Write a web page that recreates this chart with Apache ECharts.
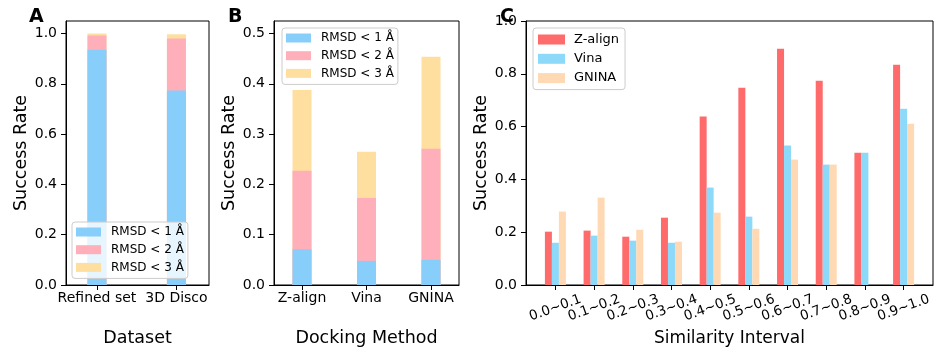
<!DOCTYPE html>
<html>
<head>
<meta charset="utf-8">
<script src="https://cdn.jsdelivr.net/npm/echarts@6/dist/echarts.min.js"></script>
<style>
html,body{margin:0;padding:0;background:#fff;}
#chart{width:949px;height:358px;}
</style>
</head>
<body>
<div id="chart"></div>
<script>
// ---- Data ----
const catsA = ['Refined set', '3D Disco'];
const a_rmsd1 = [0.936, 0.774];
const a_rmsd2 = [0.992, 0.980];
const a_rmsd3 = [1.000, 0.997];

const catsB = ['Z-align', 'Vina', 'GNINA'];
const b_rmsd1 = [0.071, 0.048, 0.050];
const b_rmsd2 = [0.227, 0.173, 0.271];
const b_rmsd3 = [0.388, 0.265, 0.454];

const catsC = ['0.0~0.1','0.1~0.2','0.2~0.3','0.3~0.4','0.4~0.5','0.5~0.6','0.6~0.7','0.7~0.8','0.8~0.9','0.9~1.0'];
const c_zalign = [0.202, 0.206, 0.183, 0.255, 0.638, 0.747, 0.895, 0.774, 0.501, 0.834];
const c_vina   = [0.160, 0.187, 0.168, 0.160, 0.369, 0.259, 0.528, 0.456, 0.501, 0.668];
const c_gnina  = [0.278, 0.331, 0.209, 0.164, 0.274, 0.213, 0.475, 0.456, 0.000, 0.611];

const yTicksA = [0, 0.2, 0.4, 0.6, 0.8, 1.0];
const yTicksB = [0, 0.1, 0.2, 0.3, 0.4, 0.5];
const yTicksC = [0, 0.2, 0.4, 0.6, 0.8, 1.0];

const rmsdNames = ['RMSD < 1 Å', 'RMSD < 2 Å', 'RMSD < 3 Å'];
const methodNames = ['Z-align', 'Vina', 'GNINA'];

// ---- Styles ----
const FONT = 'DejaVu Sans';
const colBlue = '#87CEFA', colPink = '#FFAFBA', colYellow = '#FFDFA0';
const colRed = '#FF6B6B', colVina = '#8DD9FA', colGnina = '#FFD9B3';

function pts(arr) { return arr.map((v, i) => [i, v]); }
function idx(n) { return Array.from({length: n}, (_, i) => i); }

function xAxisCfg(gi, cats, min, max, name, rotate, labelIdx) {
  const ticks = idx(cats.length);
  const labs = labelIdx || ticks;
  const lab = {
    customValues: labs,
    formatter: v => cats[Math.round(v)],
    showMinLabel: true, showMaxLabel: true, hideOverlap: false,
    fontSize: 14, color: '#000', fontFamily: FONT, margin: 6
  };
  if (rotate) {
    Object.assign(lab, {rotate: rotate, align: 'center', verticalAlign: 'middle', margin: 23, fontSize: 13.5});
  }
  return {
    type: 'value', gridIndex: gi, min: min, max: max, position: 'bottom',
    axisLine: {show: true, onZero: false, lineStyle: {color: '#000', width: 1}},
    axisTick: {show: true, inside: false, length: 5, customValues: ticks, lineStyle: {color: '#000'}},
    axisLabel: lab,
    splitLine: {show: false},
    name: name, nameLocation: 'middle', nameGap: 44,
    nameTextStyle: {fontSize: rotate ? 17 : 17.5, color: '#000', fontFamily: FONT, verticalAlign: 'top'}
  };
}
function yAxisCfg(gi, max, ticks) {
  return {
    type: 'value', gridIndex: gi, min: 0, max: max,
    axisLine: {show: true, onZero: false, lineStyle: {color: '#000', width: 1}},
    axisTick: {show: true, inside: false, length: 5, customValues: ticks, lineStyle: {color: '#000'}},
    axisLabel: {customValues: ticks, formatter: v => v.toFixed(1), showMinLabel: true, showMaxLabel: true,
                fontSize: 14, color: '#000', fontFamily: FONT, margin: 9},
    splitLine: {show: false},
    name: 'Success Rate', nameLocation: 'middle', nameGap: 35,
    nameTextStyle: {fontSize: 17.5, color: '#000', fontFamily: FONT}
  };
}
function legendCfg(left, top, names, fs, lh, iw, ih, gap, pad, tpad) {
  return {
    orient: 'vertical', left: left, top: top, data: names,
    icon: 'rect', itemWidth: iw, itemHeight: ih, itemGap: gap, padding: pad,
    selectedMode: false,
    backgroundColor: 'rgba(255,255,255,0.8)', borderColor: '#cccccc', borderWidth: 1, borderRadius: 3,
    textStyle: {fontSize: fs, lineHeight: lh, color: '#000', fontFamily: FONT, padding: [0, 0, 0, tpad]}
  };
}
function letter(t, left) {
  return {text: t, left: left, top: 8, padding: 0,
          textStyle: {fontSize: 19, fontWeight: 'bold', color: '#000', fontFamily: FONT}};
}

// Panel C labels are split over two overlaid axes so rotated labels are not auto-hidden
const evenC = idx(catsC.length).filter(i => i % 2 === 0);
const oddC = idx(catsC.length).filter(i => i % 2 === 1);
const xC2 = xAxisCfg(2, catsC, -0.76, 9.76, '', 20, oddC);
xC2.axisLine.show = false;
xC2.axisTick.show = false;

const option = {
  animation: false,
  backgroundColor: '#fff',
  textStyle: {fontFamily: FONT},
  title: [letter('A', 29), letter('B', 228), letter('C', 500)],
  grid: [
    {left: 66, top: 21, width: 143, height: 264, show: true, borderColor: '#000', borderWidth: 1, backgroundColor: 'transparent'},
    {left: 274, top: 21, width: 185, height: 264, show: true, borderColor: '#000', borderWidth: 1, backgroundColor: 'transparent'},
    {left: 526, top: 21, width: 407, height: 264, show: true, borderColor: '#000', borderWidth: 1, backgroundColor: 'transparent'}
  ],
  xAxis: [
    xAxisCfg(0, catsA, -0.39, 1.41, 'Dataset'),
    xAxisCfg(1, catsB, -0.434, 2.434, 'Docking Method'),
    xAxisCfg(2, catsC, -0.76, 9.76, 'Similarity Interval', 20, evenC),
    xC2
  ],
  yAxis: [
    yAxisCfg(0, 1.05, yTicksA),
    yAxisCfg(1, 0.525, yTicksB),
    yAxisCfg(2, 1.0, yTicksC)
  ],
  legend: [
    legendCfg(72, 222, rmsdNames, 12, 14, 25, 9, 3.7, [3, 4, 4, 4], 5),
    legendCfg(282, 28, rmsdNames, 12, 14, 25, 9, 3.7, [3, 4, 4, 4], 5),
    legendCfg(533, 28, methodNames, 13, 15, 27, 10, 4.3, [4, 6, 4, 5], 4)
  ],
  series: [
    // Panel A (overlapping cumulative bars)
    {type: 'bar', name: rmsdNames[2], xAxisIndex: 0, yAxisIndex: 0, data: pts(a_rmsd3), barWidth: 19, barGap: '-100%', itemStyle: {color: colYellow}},
    {type: 'bar', name: rmsdNames[1], xAxisIndex: 0, yAxisIndex: 0, data: pts(a_rmsd2), barWidth: 19, barGap: '-100%', itemStyle: {color: colPink}},
    {type: 'bar', name: rmsdNames[0], xAxisIndex: 0, yAxisIndex: 0, data: pts(a_rmsd1), barWidth: 19, barGap: '-100%', itemStyle: {color: colBlue}},
    // Panel B
    {type: 'bar', name: rmsdNames[2], xAxisIndex: 1, yAxisIndex: 1, data: pts(b_rmsd3), barWidth: 19, barGap: '-100%', itemStyle: {color: colYellow}},
    {type: 'bar', name: rmsdNames[1], xAxisIndex: 1, yAxisIndex: 1, data: pts(b_rmsd2), barWidth: 19, barGap: '-100%', itemStyle: {color: colPink}},
    {type: 'bar', name: rmsdNames[0], xAxisIndex: 1, yAxisIndex: 1, data: pts(b_rmsd1), barWidth: 19, barGap: '-100%', itemStyle: {color: colBlue}},
    // Panel C (grouped)
    {type: 'bar', name: methodNames[0], xAxisIndex: 2, yAxisIndex: 2, data: pts(c_zalign), barWidth: 7, barGap: '0%', itemStyle: {color: colRed}},
    {type: 'bar', name: methodNames[1], xAxisIndex: 2, yAxisIndex: 2, data: pts(c_vina), barWidth: 7, barGap: '0%', itemStyle: {color: colVina}},
    {type: 'bar', name: methodNames[2], xAxisIndex: 2, yAxisIndex: 2, data: pts(c_gnina), barWidth: 7, barGap: '0%', itemStyle: {color: colGnina}}
  ]
};

const chart = echarts.init(document.getElementById('chart'), null, {renderer: 'canvas'});
chart.setOption(option);
</script>
</body>
</html>
